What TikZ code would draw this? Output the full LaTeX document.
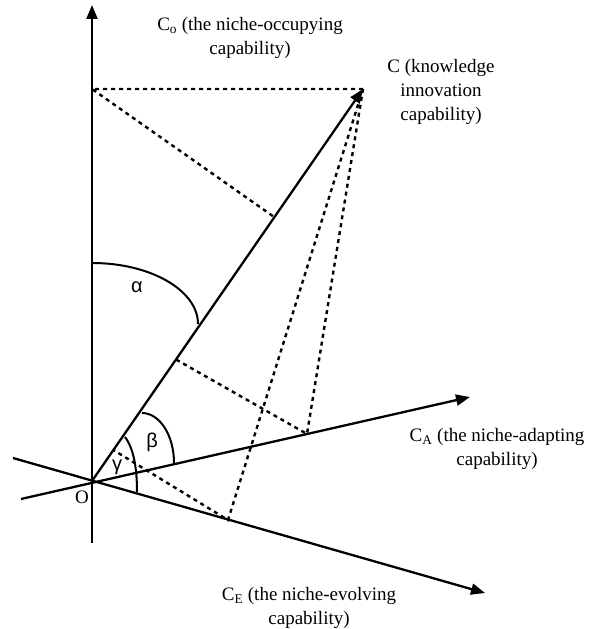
\documentclass[tikz,border=0pt]{standalone}
\usepackage{fontspec}
\setmainfont{Liberation Serif}
\newfontfamily\greekfont{Liberation Sans}
\usetikzlibrary{arrows.meta,calc}

\begin{document}
\begin{tikzpicture}[
  x=1pt, y=1pt,
  >={Triangle[length=14pt,width=11pt]},
  every node/.style={font=\fontsize{19}{24}\selectfont},
  axisline/.style={line width=2.3pt, ->},
  projline/.style={line width=2.4pt, dash pattern=on 4pt off 4pt},
  anglearc/.style={line width=2pt},
  greeklabel/.style={font=\fontsize{20}{22}\selectfont\greekfont},
  axislabel/.style={align=center, inner sep=0pt},
]
\useasboundingbox (0,0) rectangle (591,629);

%%% Axes %%%
\coordinate (O) at (92,148);       % origin
\coordinate (Otop) at (92,624);    % C_O arrow tip
\coordinate (Obot) at (92,86);
\coordinate (Aend) at (470,232);   % C_A arrow tip
\coordinate (Aback) at (21,130);
\coordinate (Eend) at (485,36);    % C_E arrow tip
\coordinate (Eback) at (13,171);
\coordinate (C) at (363,540);      % knowledge innovation capability

\draw[axisline] (Obot) -- (Otop);
\draw[axisline] (Aback) -- (Aend);
\draw[axisline] (Eback) -- (Eend);
\draw[axisline] (O) -- (C);

%%% Projections %%%
\coordinate (Cproj) at (92,540);            % C on the C_O axis
\coordinate (Cfoot) at ($(O)!0.673!(C)$);   % its foot on OC
\coordinate (Aproj) at (307,195);           % C on the C_A axis
\coordinate (Afoot) at ($(O)!0.31!(C)$);
\coordinate (Eproj) at (228,109);           % C on the C_E axis
\coordinate (Efoot) at ($(O)!0.079!(C)$);

\draw[projline] (C) -- (Cproj) -- (Cfoot);
\draw[projline] (C) -- (Aproj) -- (Afoot);
\draw[projline] (C) -- (Eproj) -- (Efoot);

%%% Angles %%%
\draw[anglearc] (92,366) arc[start angle=90, end angle=0, x radius=106, y radius=61];
\draw[anglearc] (142,216) arc[start angle=90, end angle=0, x radius=32, y radius=50];
\draw[anglearc] (125,192) .. controls (134,180) and (137,160) .. (137,137);

\node[greeklabel] (alpha) at (137,342) {α};
\node[greeklabel] (beta) at (152,187) {β};
\node[greeklabel] (gamma) at (117,162) {γ};
\node (origin) at (82,132) {O};

%%% Axis labels %%%
\node[axislabel] (labO) at (250,591) {C\textsubscript{o} (the niche-occupying\\capability)};
\node[axislabel] (labC) at (441,537) {C (knowledge\\innovation\\capability)};
\node[axislabel] (labA) at (497,180) {C\textsubscript{A} (the niche-adapting\\capability)};
\node[axislabel] (labE) at (309,21) {C\textsubscript{E} (the niche-evolving\\capability)};

\end{tikzpicture}
\end{document}
